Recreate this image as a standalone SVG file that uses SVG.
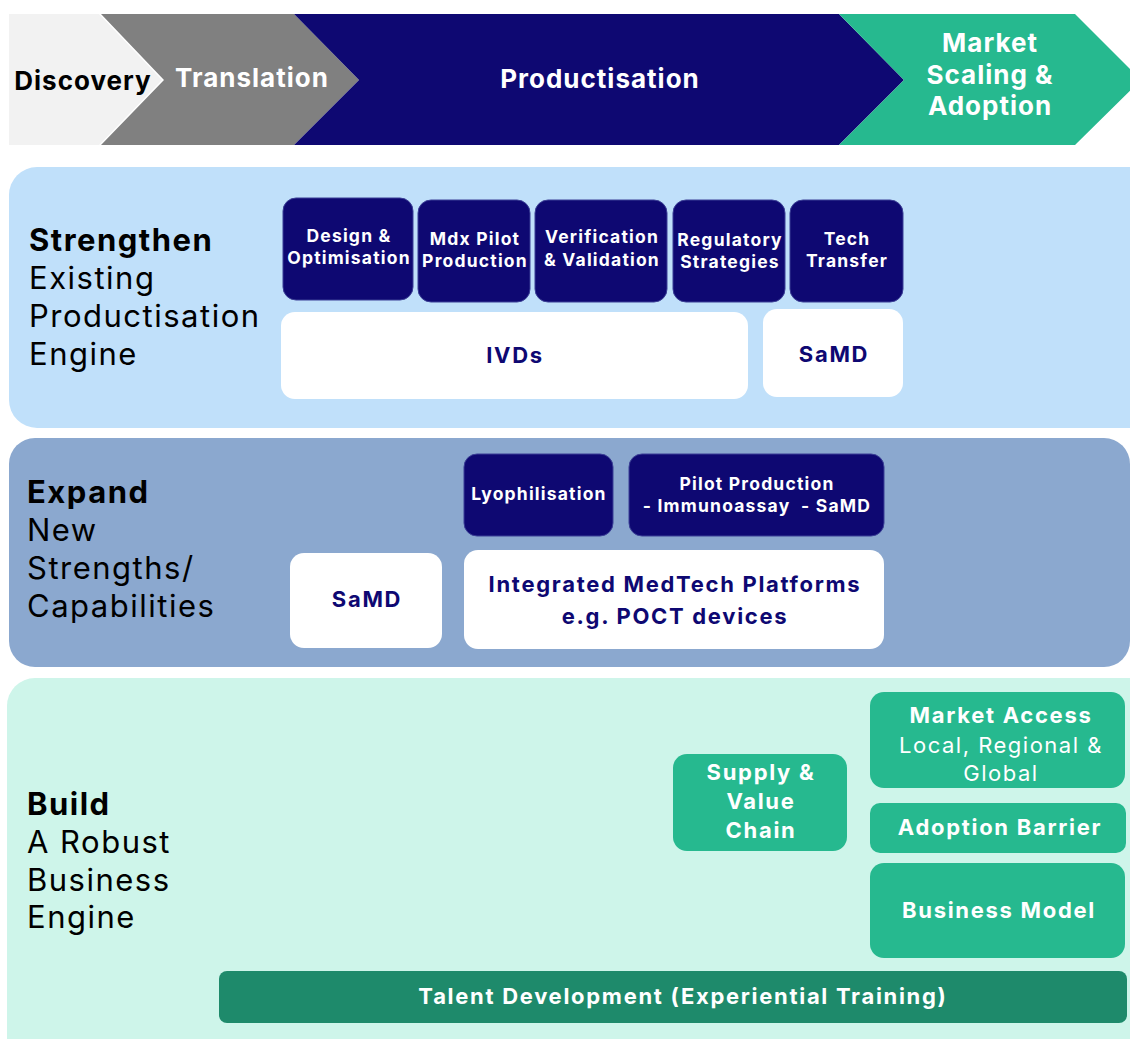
<svg xmlns="http://www.w3.org/2000/svg" width="1130" height="1039" viewBox="0 0 1130 1039">
<style>
text{font-family:Inter,"Noto Sans","Liberation Sans",sans-serif;text-anchor:middle}
.w{fill:#ffffff}
.nv{fill:#0e0872}
.bk{fill:#000000}
.lbl{font-size:31px;letter-spacing:1.5px;text-anchor:start;fill:#000}
.phase{font-size:26px;font-weight:700;letter-spacing:1px}
.sm{font-size:17.5px;font-weight:700;fill:#fff;letter-spacing:1.2px}
.md{font-size:22px;font-weight:700;letter-spacing:1.7px}
.rg{font-size:22px;letter-spacing:1.5px}
.navybox{fill:#0e0872;stroke:#3b3f96;stroke-width:1}
.whitebox{fill:#ffffff}
.greenbox{fill:#26b98f}
</style>
<rect width="1130" height="1039" fill="#ffffff"/>
<g id="phases">
  <g id="discovery">
    <polygon points="9,14 99,14 162,80 99,145 9,145" fill="#f2f2f2"/>
    <text class="phase bk" x="83" y="90">Discovery</text>
  </g>
  <g id="translation">
    <polygon points="101,14 294,14 359,80 294,145 101,145 164,80" fill="#808080"/>
    <text class="phase w" x="252" y="87">Translation</text>
  </g>
  <g id="productisation">
    <polygon points="294,14 839,14 904,80 839,145 294,145 359,80" fill="#0e0872"/>
    <text class="phase w" x="600" y="88">Productisation</text>
  </g>
  <g id="market-scaling">
    <polygon points="839,14 1075,14 1141,80 1075,145 839,145 904,80" fill="#26b98f"/>
    <text class="phase w" x="990" y="52">Market</text>
    <text class="phase w" x="990" y="84">Scaling &amp;</text>
    <text class="phase w" x="990" y="115">Adoption</text>
  </g>
</g>
<g id="strengthen">
  <rect x="9" y="167" width="1150" height="261" rx="28" fill="#c0e0fa"/>
  <text class="lbl" x="29" y="251"><tspan font-weight="700">Strengthen</tspan><tspan x="29" dy="38">Existing</tspan><tspan x="29" dy="38">Productisation</tspan><tspan x="29" dy="38">Engine</tspan></text>
</g>
<g id="design">
  <rect class="navybox" x="283" y="198" width="130" height="102" rx="13"/>
  <text class="sm" x="349" y="242">Design &amp;</text>
  <text class="sm" x="349" y="264">Optimisation</text>
</g>
<g id="mdx">
  <rect class="navybox" x="418" y="200" width="112" height="102" rx="13"/>
  <text class="sm" x="475" y="245">Mdx Pilot</text>
  <text class="sm" x="475" y="267">Production</text>
</g>
<g id="verification">
  <rect class="navybox" x="535" y="200" width="132" height="102" rx="13"/>
  <text class="sm" x="602" y="243">Verification</text>
  <text class="sm" x="602" y="266">&amp; Validation</text>
</g>
<g id="regulatory">
  <rect class="navybox" x="673" y="200" width="112" height="102" rx="13"/>
  <text class="sm" x="730" y="246">Regulatory</text>
  <text class="sm" x="730" y="268">Strategies</text>
</g>
<g id="tech-transfer">
  <rect class="navybox" x="790" y="200" width="113" height="102" rx="13"/>
  <text class="sm" x="847" y="245">Tech</text>
  <text class="sm" x="847" y="267">Transfer</text>
</g>
<g id="ivds">
  <rect class="whitebox" x="281" y="312" width="467" height="87" rx="14"/>
  <text class="md nv" x="515" y="363">IVDs</text>
</g>
<g id="samd1">
  <rect class="whitebox" x="763" y="309" width="140" height="88" rx="14"/>
  <text class="md nv" x="834" y="362">SaMD</text>
</g>
<g id="expand">
  <rect x="9" y="438" width="1121" height="229" rx="26" fill="#8ba8cf"/>
  <text class="lbl" x="27" y="503"><tspan font-weight="700">Expand</tspan><tspan x="27" dy="38">New</tspan><tspan x="27" dy="38">Strengths/</tspan><tspan x="27" dy="38">Capabilities</tspan></text>
</g>
<g id="lyophilisation">
  <rect class="navybox" x="464" y="454" width="149" height="82" rx="13"/>
  <text class="sm" x="539" y="500">Lyophilisation</text>
</g>
<g id="pilot-production">
  <rect class="navybox" x="629" y="454" width="255" height="82" rx="13"/>
  <text class="sm" x="757" y="490">Pilot Production</text>
  <text class="sm" x="757" y="512" xml:space="preserve">- Immunoassay  - SaMD</text>
</g>
<g id="samd2">
  <rect class="whitebox" x="290" y="553" width="152" height="95" rx="14"/>
  <text class="md nv" x="367" y="607">SaMD</text>
</g>
<g id="integrated">
  <rect class="whitebox" x="464" y="550" width="420" height="99" rx="14"/>
  <text class="md nv" x="675" y="592">Integrated MedTech Platforms</text>
  <text class="md nv" x="675" y="624">e.g. POCT devices</text>
</g>
<g id="build">
  <rect x="7" y="678" width="1150" height="400" rx="28" fill="#cef5ea"/>
  <text class="lbl" x="27" y="815"><tspan font-weight="700">Build</tspan><tspan x="27" dy="38">A Robust</tspan><tspan x="27" dy="38">Business</tspan><tspan x="27" dy="37">Engine</tspan></text>
</g>
<g id="supply">
  <rect class="greenbox" x="673" y="754" width="174" height="97" rx="14"/>
  <text class="md w" x="761" y="780">Supply &amp;</text>
  <text class="md w" x="761" y="809">Value</text>
  <text class="md w" x="761" y="838">Chain</text>
</g>
<g id="market-access">
  <rect class="greenbox" x="870" y="692" width="255" height="96" rx="14"/>
  <text class="md w" x="1001" y="723">Market Access</text>
  <text class="rg w" x="1001" y="753">Local, Regional &amp;</text>
  <text class="rg w" x="1001" y="781">Global</text>
</g>
<g id="adoption-barrier">
  <rect class="greenbox" x="870" y="803" width="256" height="50" rx="10"/>
  <text class="md w" x="1000" y="835">Adoption Barrier</text>
</g>
<g id="business-model">
  <rect class="greenbox" x="870" y="863" width="255" height="95" rx="14"/>
  <text class="md w" x="999" y="918">Business Model</text>
</g>
<g id="talent">
  <rect x="219" y="971" width="908" height="52" rx="8" fill="#1e8a6b"/>
  <text class="md w" x="683" y="1004">Talent Development (Experiential Training)</text>
</g>
<g id="connectors"/>
</svg>
